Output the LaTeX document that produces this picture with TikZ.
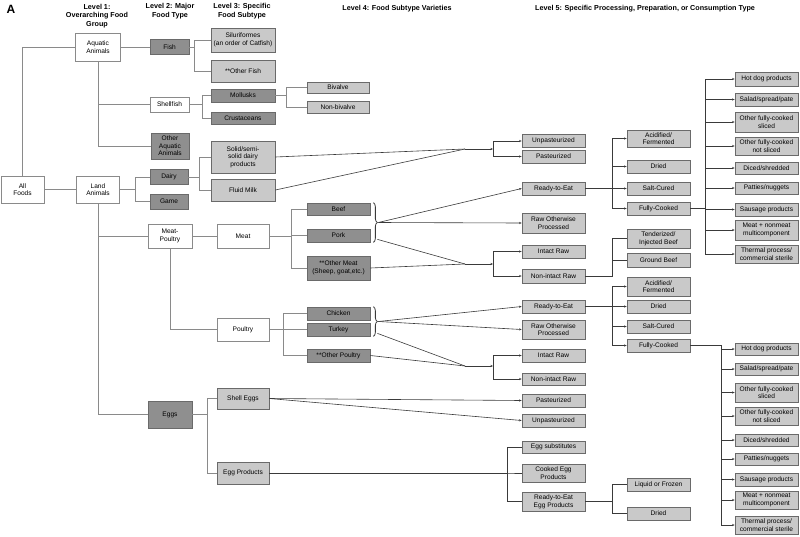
\documentclass[tikz,border=0pt]{standalone}
\usepackage{fontspec}
\setmainfont{Liberation Sans}
\usetikzlibrary{arrows.meta,calc,decorations.pathreplacing}
\definecolor{boxline}{HTML}{6A6A6A}
\definecolor{darkfill}{HTML}{8F8F8F}
\definecolor{lightfill}{HTML}{C9C9C9}
\definecolor{treeline}{HTML}{8A8A8A}
\definecolor{flowline}{HTML}{3A3A3A}
\newcommand{\boxfont}{\fontsize{6.6}{7.6}\selectfont}
\newcommand{\hdrfont}{\fontsize{7.2}{8.8}\selectfont\bfseries}

\begin{document}
\begin{tikzpicture}[x=1pt,y=-1pt,
 base/.style={draw=boxline,line width=0.7pt,inner sep=0.5pt,align=center,font=\boxfont,minimum width=63pt,minimum height=13pt},
 whitebox/.style={base,draw=treeline,fill=white},
 darkbox/.style={base,fill=darkfill},
 lightbox/.style={base,fill=lightfill},
 hdr/.style={align=center,font=\hdrfont,inner sep=0pt},
 link/.style={draw=treeline,line width=0.7pt},
 flow/.style={draw=flowline,line width=0.6pt},
 arr/.style={flow,-{Stealth[length=2.6pt,width=2.2pt]}},
 brc/.style={draw=flowline,line width=0.8pt,decorate,decoration={brace,amplitude=4pt}}
]
\useasboundingbox (0,0) rectangle (800,536);
% headers
\node[font=\fontsize{12}{12}\selectfont\bfseries,inner sep=0pt] (panel) at (11,9) {A};
\node[hdr] (lvl1) at (97,16) {Level 1:\\Overarching Food\\Group};
\node[hdr] (lvl2) at (170,11.5) {Level 2: Major\\Food Type};
\node[hdr] (lvl3) at (242,11.5) {Level 3: Specific\\Food Subtype};
\node[hdr] (lvl4) at (397,9) {Level 4: Food Subtype Varieties};
\node[hdr] (lvl5) at (645,9) {Level 5: Specific Processing, Preparation, or Consumption Type};
% levels 1-2
\node[whitebox,minimum width=43pt,minimum height=27pt] (allf) at (22.5,189.5) {All\\Foods};
\node[whitebox,minimum width=45pt,minimum height=28pt] (aquatic) at (98,47) {Aquatic\\Animals};
\node[whitebox,minimum width=43pt,minimum height=27pt] (land) at (98,189.5) {Land\\Animals};
\node[darkbox,minimum width=39pt,minimum height=15pt] (fish) at (169.5,47) {Fish};
\node[whitebox,minimum width=39pt,minimum height=15pt] (shellfish) at (169.5,104.5) {Shellfish};
\node[darkbox,minimum width=38pt,minimum height=26pt] (otheraq) at (170,146) {Other\\Aquatic\\Animals};
\node[darkbox,minimum width=38pt,minimum height=15pt] (dairy) at (169,177) {Dairy};
\node[darkbox,minimum width=38pt,minimum height=15pt] (game) at (169,201.5) {Game};
\node[whitebox,minimum width=44pt,minimum height=24pt] (meatpoultry) at (170,236) {Meat-\\Poultry};
\node[darkbox,minimum width=44pt,minimum height=27pt] (eggs) at (170,414.5) {Eggs};
% level 3
\node[lightbox,minimum width=64pt,minimum height=24pt] (silur) at (243,40) {Siluriformes\\(an order of Catfish)};
\node[lightbox,minimum width=64pt,minimum height=22pt] (otherfish) at (243,71) {**Other Fish};
\node[darkbox,minimum width=64pt] (mollusks) at (243,95.5) {Mollusks};
\node[darkbox,minimum width=64pt,minimum height=12pt] (crust) at (243,118) {Crustaceans};
\node[lightbox,minimum width=64pt,minimum height=32pt] (solid) at (243,157) {Solid/semi-\\solid dairy\\products};
\node[lightbox,minimum width=64pt,minimum height=22pt] (fluid) at (243,190) {Fluid Milk};
\node[whitebox,minimum width=52pt,minimum height=24pt] (meat) at (243,236) {Meat};
\node[whitebox,minimum width=52pt,minimum height=23pt] (poultry) at (243,329.5) {Poultry};
\node[lightbox,minimum width=52pt,minimum height=21pt] (shelleggs) at (243,398.5) {Shell Eggs};
\node[lightbox,minimum width=52pt,minimum height=22pt] (eggprod) at (243,473) {Egg Products};
\node[lightbox,minimum width=62pt,minimum height=11pt] (bivalve) at (338,87.5) {Bivalve};
\node[lightbox,minimum width=62pt,minimum height=12pt] (nonbiv) at (338,107) {Non-bivalve};
\node[darkbox,minimum height=12pt] (beef) at (338.5,209) {Beef};
\node[darkbox] (pork) at (338.5,235.5) {Pork};
\node[darkbox,minimum height=24pt] (othermeat) at (338.5,268) {**Other Meat\\(Sheep, goat,etc.)};
\node[darkbox] (chicken) at (338.5,313.5) {Chicken};
\node[darkbox] (turkey) at (338.5,329.5) {Turkey};
\node[darkbox] (otherpoul) at (338.5,355.5) {**Other Poultry};
% level 4
\node[lightbox] (unpast1) at (553.5,141) {Unpasteurized};
\node[lightbox] (past1) at (553.5,156.5) {Pasteurized};
\node[lightbox] (rte1) at (553.5,188.5) {Ready-to-Eat};
\node[lightbox,minimum height=20pt] (raw1) at (553.5,223) {Raw Otherwise\\Processed};
\node[lightbox] (intact1) at (553.5,251.5) {Intact Raw};
\node[lightbox,minimum height=14pt] (nonint1) at (553.5,276) {Non-intact Raw};
\node[lightbox] (rte2) at (553.5,306.5) {Ready-to-Eat};
\node[lightbox,minimum height=19pt] (raw2) at (553.5,329.5) {Raw Otherwise\\Processed};
\node[lightbox] (intact2) at (553.5,355.5) {Intact Raw};
\node[lightbox,minimum height=12pt] (nonint2) at (553.5,379) {Non-intact Raw};
\node[lightbox] (past2) at (553.5,400.5) {Pasteurized};
\node[lightbox] (unpast2) at (553.5,420.5) {Unpasteurized};
\node[lightbox,minimum height=12pt] (eggsub) at (553.5,447) {Egg substitutes};
\node[lightbox,minimum height=18pt] (cookedegg) at (553.5,473) {Cooked Egg\\Products};
\node[lightbox,minimum height=19pt] (rteegg) at (553.5,501.5) {Ready-to-Eat\\Egg Products};
% level 5, first column
\node[lightbox,minimum height=17pt] (acid1) at (658.5,138.5) {Acidified/\\Fermented};
\node[lightbox] (dried1) at (658.5,166.5) {Dried};
\node[lightbox] (salt1) at (658.5,188.5) {Salt-Cured};
\node[lightbox] (fully1) at (658.5,208.5) {Fully-Cooked};
\node[lightbox,minimum height=19pt] (tender) at (658.5,238.5) {Tenderized/\\Injected Beef};
\node[lightbox,minimum height=14pt] (ground) at (658.5,260) {Ground Beef};
\node[lightbox,minimum height=19pt] (acid2) at (658.5,286.5) {Acidified/\\Fermented};
\node[lightbox] (dried2) at (658.5,306.5) {Dried};
\node[lightbox] (salt2) at (658.5,326.5) {Salt-Cured};
\node[lightbox] (fully2) at (658.5,345.5) {Fully-Cooked};
\node[lightbox] (liquid) at (658.5,484.5) {Liquid or Frozen};
\node[lightbox] (dried3) at (658.5,513.5) {Dried};
% level 5, cooked products
\node[lightbox,minimum height=14pt] (hotdogA) at (766.5,79) {Hot dog products};
\node[lightbox] (saladA) at (766.5,99.5) {Salad/spread/pate};
\node[lightbox,minimum height=20pt] (slicedA) at (766.5,122) {Other fully-cooked\\sliced};
\node[lightbox,minimum height=18pt] (notslA) at (766.5,146) {Other fully-cooked\\not sliced};
\node[lightbox,minimum height=12pt] (dicedA) at (766.5,168) {Diced/shredded};
\node[lightbox,minimum height=12pt] (pattiesA) at (766.5,188) {Patties/nuggets};
\node[lightbox] (sausageA) at (766.5,209.5) {Sausage products};
\node[lightbox,minimum height=20pt] (multiA) at (766.5,230) {Meat + nonmeat\\multicomponent};
\node[lightbox,minimum height=18pt] (thermalA) at (766.5,254) {Thermal process/\\commercial sterile};
\node[lightbox,minimum height=12pt] (hotdogB) at (766.5,349) {Hot dog products};
\node[lightbox,minimum height=12pt] (saladB) at (766.5,369) {Salad/spread/pate};
\node[lightbox,minimum height=19pt] (slicedB) at (766.5,392.5) {Other fully-cooked\\sliced};
\node[lightbox,minimum height=18pt] (notslB) at (766.5,416) {Other fully-cooked\\not sliced};
\node[lightbox,minimum height=12pt] (dicedB) at (766.5,440) {Diced/shredded};
\node[lightbox,minimum height=12pt] (pattiesB) at (766.5,459) {Patties/nuggets};
\node[lightbox] (sausageB) at (766.5,479.5) {Sausage products};
\node[lightbox,minimum height=18pt] (multiB) at (766.5,500) {Meat + nonmeat\\multicomponent};
\node[lightbox,minimum height=18pt] (thermalB) at (766.5,525) {Thermal process/\\commercial sterile};
% tree on the left
\draw[link] (allf.north) |- (aquatic.west); \draw[link] (allf) -- (land);
\draw[link] (aquatic) -- (fish); \draw[link] (aquatic.south) |- (shellfish.west); \draw[link] (aquatic.south) |- (otheraq.west);
\draw[link] (land.east) -- ++(15,0) |- (dairy.west); \draw[link] (land.east) -- ++(15,0) |- (game.west);
\draw[link] (land.south) |- (meatpoultry.west); \draw[link] (land.south) |- (eggs.west);
\draw[link] (meatpoultry) -- (meat); \draw[link] (meatpoultry.south) |- (poultry.west);
\draw[link] (fish.east) -- ++(5,0) |- (silur.west); \draw[link] (fish.east) -- ++(5,0) |- (otherfish.west);
\draw[link] (shellfish.east) -- ++(13,0) |- (mollusks.west); \draw[link] (shellfish.east) -- ++(13,0) |- (crust.west);
\draw[link] (mollusks.east) -- ++(11,0) |- (bivalve.west); \draw[link] (mollusks.east) -- ++(11,0) |- (nonbiv.west);
\draw[link] (dairy.east) -- ++(11,0) |- (solid.west); \draw[link] (dairy.east) -- ++(11,0) |- (fluid.west);
\draw[link] (meat.east) -- ++(22,0) |- (beef.west); \draw[link] (meat.east) -- ++(22,0) |- (pork.west); \draw[link] (meat.east) -- ++(22,0) |- (othermeat.west);
\draw[link] (poultry.east) -- ++(14,0) |- (chicken.west); \draw[link] (poultry.east) -- ++(14,0) |- (turkey.west); \draw[link] (poultry.east) -- ++(14,0) |- (otherpoul.west);
\draw[link] (eggs.east) -- ++(15,0) |- (shelleggs.west); \draw[link] (eggs.east) -- ++(15,0) |- (eggprod.west);
% dairy
\coordinate (dairyj) at (465,149); \coordinate (dairybar) at (493,149);
\draw[flow] (solid.east) -- (dairyj); \draw[flow] (fluid.east) -- (dairyj); \draw[arr] (dairyj) -- (dairybar);
\draw[arr] (dairybar) |- (unpast1.west); \draw[arr] (dairybar) |- (past1.west);
% meat
\draw[brc] ($(beef.north east)+(3,0)$) -- ($(pork.south east)+(3,0)$);
\coordinate (meattip) at ($(beef.north east)!0.5!(pork.south east)+(8,0)$);
\coordinate (meatlow) at ($(pork.south east)+(7,-3)$);
\coordinate (meatj) at (465,264); \coordinate (meatbar) at (493,264);
\draw[arr] (meattip) -- (rte1.west); \draw[arr] (meattip) -- (raw1.west);
\draw[flow] (meatlow) -- (meatj); \draw[flow] (othermeat.east) -- (meatj); \draw[arr] (meatj) -- (meatbar);
\draw[arr] (meatbar) |- (intact1.west); \draw[arr] (meatbar) |- (nonint1.west);
\foreach \c in {acid1,dried1,salt1,fully1} \draw[arr] (rte1.east) -- ++(27,0) |- (\c.west);
\draw[flow] (nonint1.east) -- ++(27,0) |- (tender.west); \draw[flow] (nonint1.east) -- ++(27,0) |- (ground.west);
\foreach \c in {hotdogA,saladA,slicedA,notslA,dicedA,pattiesA,sausageA,multiA,thermalA} \draw[arr] (fully1.east) -- ++(15,0) |- (\c.west);
% poultry
\draw[brc] ($(chicken.north east)+(3,0)$) -- ($(turkey.south east)+(3,0)$);
\coordinate (poultip) at ($(chicken.north east)!0.5!(turkey.south east)+(8,0)$);
\coordinate (poullow) at ($(turkey.south east)+(7,-3)$);
\coordinate (poulj) at (465,366); \coordinate (poulbar) at (493,366);
\draw[arr] (poultip) -- (rte2.west); \draw[arr] (poultip) -- (raw2.west);
\draw[flow] (poullow) -- (poulj); \draw[flow] (otherpoul.east) -- (poulj); \draw[arr] (poulj) -- (poulbar);
\draw[arr] (poulbar) |- (intact2.west); \draw[arr] (poulbar) |- (nonint2.west);
\foreach \c in {acid2,dried2,salt2,fully2} \draw[arr] (rte2.east) -- ++(27,0) |- (\c.west);
\foreach \c in {hotdogB,saladB,slicedB,notslB,dicedB,pattiesB,sausageB,multiB,thermalB} \draw[arr] (fully2.east) -- ++(31,0) |- (\c.west);
% eggs
\draw[arr] (shelleggs.east) -- (past2.west); \draw[arr] (shelleggs.east) -- (unpast2.west);
\foreach \c in {eggsub,cookedegg,rteegg} \draw[flow] (eggprod.east) -- ++(238,0) |- (\c.west);
\draw[flow] (rteegg.east) -- ++(27,0) |- (liquid.west); \draw[flow] (rteegg.east) -- ++(27,0) |- (dried3.west);
\end{tikzpicture}
\end{document}
